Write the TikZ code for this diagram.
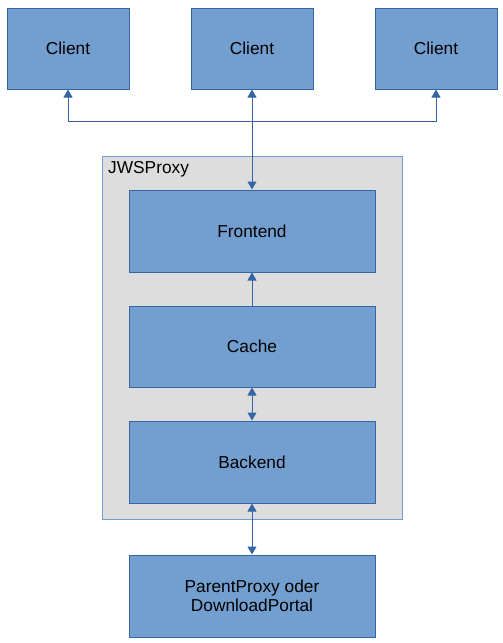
\documentclass[tikz,border=0pt]{standalone}
\usepackage{fontspec}
\setmainfont{Liberation Sans}
\usetikzlibrary{arrows.meta}
\definecolor{boxfill}{HTML}{729FCF}
\definecolor{boxline}{HTML}{3465A4}
\definecolor{grpfill}{HTML}{DDDDDD}
\begin{document}
\begin{tikzpicture}[x=1pt,y=-1pt,
  blk/.style={draw=boxline,fill=boxfill,line width=1pt,inner sep=0pt,align=center,font=\fontsize{17.3}{19.5}\selectfont},
  conn/.style={draw=boxline,line width=1pt}
]
\useasboundingbox (0,0) rectangle (503,643);
\fill[white] (0,0) rectangle (503,643);
% group
\node[draw=boxfill,fill=grpfill,line width=1pt,minimum width=300pt,minimum height=363pt,inner sep=0pt] (grp) at (252,337.5) {};
\node[anchor=west,inner sep=0pt,font=\fontsize{17.3}{19.5}\selectfont] (grplbl) at (108,169.5) {JWSProxy};
% clients
\node[blk,minimum width=122pt,minimum height=81pt] (c1) at (68,48.5) {Client};
\node[blk,minimum width=122pt,minimum height=81pt] (c2) at (252,48.5) {Client};
\node[blk,minimum width=122pt,minimum height=81pt] (c3) at (436,48.5) {Client};
% inner
\node[blk,minimum width=246pt,minimum height=82pt] (fe) at (252,231) {Frontend};
\node[blk,minimum width=246pt,minimum height=81pt] (ca) at (252,346.5) {Cache};
\node[blk,minimum width=246pt,minimum height=82pt] (be) at (252,462) {Backend};
\node[blk,minimum width=246pt,minimum height=82pt] (pp) at (252,596) {ParentProxy oder\\DownloadPortal};
% connectors
\coordinate (hl) at (68,121);
\coordinate (hr) at (436,121);
\draw[conn,{Triangle[width=9pt,length=8pt]}-{Triangle[width=9pt,length=8pt]}] (c2.south) -- (fe.north);
\draw[conn,-{Triangle[width=9pt,length=8pt]}] (hr) -- (hl) -- (c1.south);
\draw[conn,-{Triangle[width=9pt,length=8pt]}] (hl) -- (hr) -- (c3.south);
\draw[conn,-{Triangle[width=9pt,length=8pt]}] (ca.north) -- (fe.south);
\draw[conn,{Triangle[width=9pt,length=8pt]}-{Triangle[width=9pt,length=8pt]}] (ca.south) -- (be.north);
\draw[conn,{Triangle[width=9pt,length=8pt]}-{Triangle[width=9pt,length=8pt]}] (be.south) -- (pp.north);
\end{tikzpicture}
\end{document}
